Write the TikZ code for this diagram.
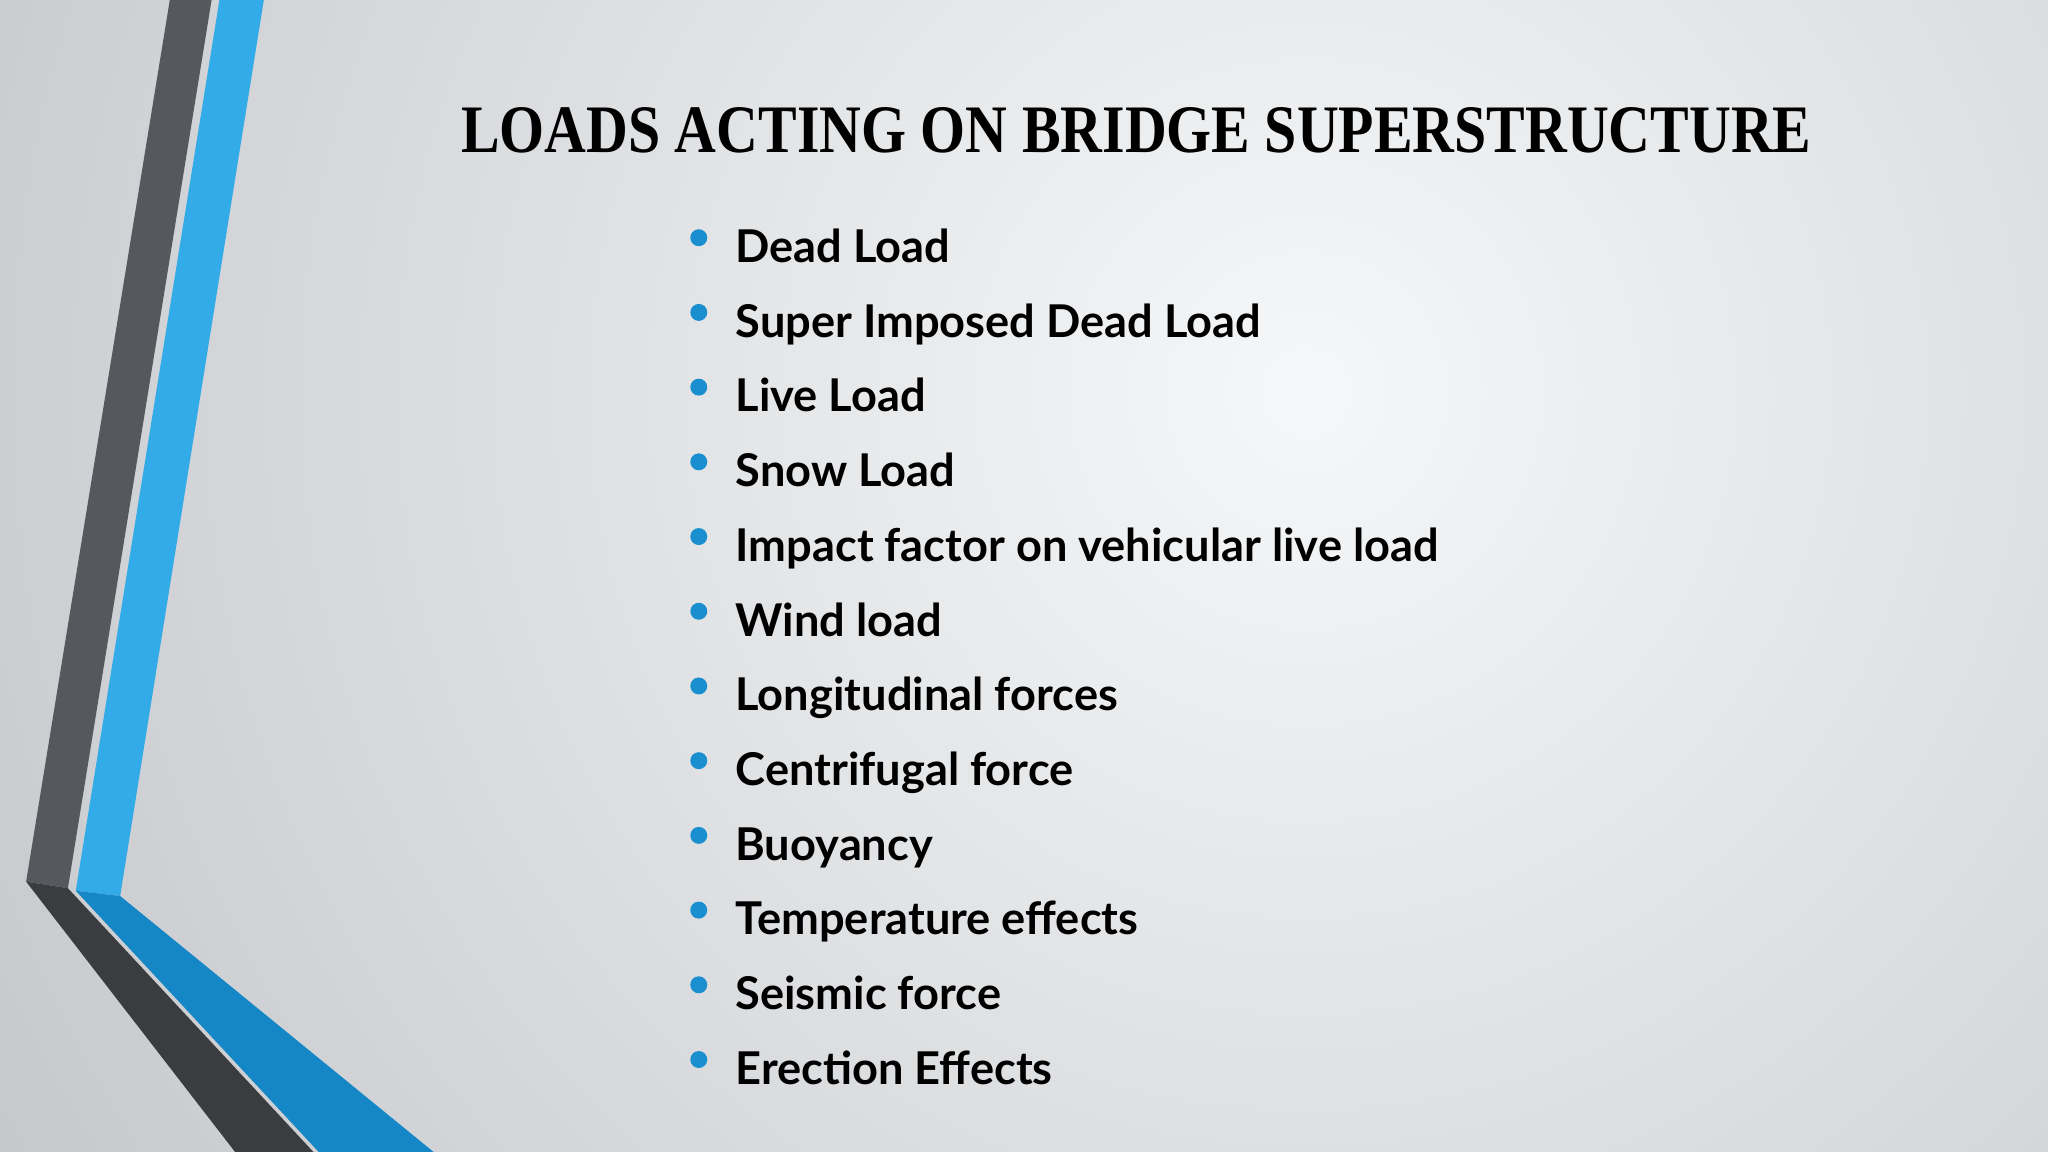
\documentclass[tikz,border=0pt]{standalone}
\usepackage{fontspec}
\setmainfont{Lato}
\newfontfamily\titlefont{Liberation Serif}
\usetikzlibrary{shadings}
\definecolor{bgin}{HTML}{F6F7F8}
\definecolor{bgout}{HTML}{C2C4C8}
\definecolor{band}{HTML}{55585C}
\definecolor{bandd}{HTML}{3A3C3F}
\definecolor{blu}{HTML}{33ABE8}
\definecolor{blud}{HTML}{1586C6}
\definecolor{dot}{HTML}{1A8FD0}
\tikzset{item/.style={anchor=base west,font=\fontsize{34.6}{40}\selectfont\bfseries,inner sep=0pt},
 bul/.style={circle,fill=dot,inner sep=0pt,minimum size=13pt}}
\begin{document}
\begin{tikzpicture}[x=1pt,y=-1pt]
\useasboundingbox (0,0) rectangle (1568,882);
\fill[bgout] (0,0) rectangle (1568,882);
\begin{scope}
\clip (0,0) rectangle (1568,882);
\shade[inner color=bgin,outer color=bgout] (1000,300) circle (1250);
\end{scope}
\fill[band] (130,0) -- (162,0) -- (52,680) -- (20,675) -- cycle;
\fill[bandd] (20,675) -- (52,680) -- (240,882) -- (180,882) -- cycle;
\fill[blu] (168,0) -- (202,0) -- (92,686) -- (58,682) -- cycle;
\fill[blud] (58,682) -- (92,686) -- (332,882) -- (244,882) -- cycle;
\node (title) at (870,100) {\titlefont\bfseries\fontsize{52}{60}\selectfont\scalebox{0.852}[1]{LOADS ACTING ON BRIDGE SUPERSTRUCTURE}};
\foreach \t [count=\i] in {Dead Load,Super Imposed Dead Load,Live Load,Snow Load,Impact factor on vehicular live load,Wind load,Longitudinal forces,Centrifugal force,Buoyancy,Temperature effects,Seismic force,Erection Effects}{
 \node[bul] (b\i) at (535,{182+57.2*(\i-1)}) {};
 \node[item] (t\i) at (563,{201+57.2*(\i-1)}) {\t};
}
\end{tikzpicture}
\end{document}
